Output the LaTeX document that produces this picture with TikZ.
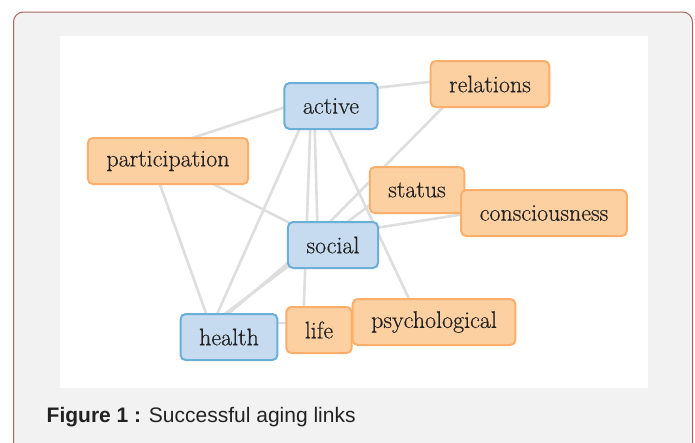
\documentclass[tikz,border=0pt]{standalone}
\usepackage{fontspec}
\usepackage{xcolor}
\usepackage{tikz}
\newfontfamily\capfont{Liberation Sans}
\newfontfamily\termfont[FakeBold=0.5]{Latin Modern Roman}
\definecolor{termblue}{HTML}{C6DBEF}
\definecolor{termbluedark}{HTML}{6BAED6}
\definecolor{termorange}{HTML}{FDD0A2}
\definecolor{termorangedark}{HTML}{FDAE6B}
\definecolor{linkgray}{HTML}{DEDEDE}
\definecolor{framebrown}{HTML}{A8685C}
\definecolor{framegray}{HTML}{F2F2F2}
\definecolor{inkdark}{HTML}{222222}
\pgfdeclarelayer{bg}
\pgfdeclarelayer{links}
\pgfsetlayers{bg,links,main}
\tikzset{
  term/.style={rounded corners=5pt, line width=2pt, minimum height=46pt,
    inner xsep=18.5pt, font=\termfont\fontsize{24}{28}\selectfont, text=inkdark},
  bluebox/.style={term, fill=termblue, draw=termbluedark},
  orangebox/.style={term, fill=termorange, draw=termorangedark},
  link/.style={draw=linkgray, line width=2.6pt}
}
\begin{document}
\begin{tikzpicture}[x=1pt, y=-1pt]
\clip (0,0) rectangle (695,442);
\useasboundingbox (0,0) rectangle (695,442);
\begin{pgfonlayer}{bg}
\fill[white] (0,0) rectangle (695,442);
\filldraw[fill=framegray, draw=framebrown, line width=1pt, rounded corners=10pt]
  (13.5,12) rectangle (692.5,470);
\fill[white] (60,36) rectangle (648,388);
\end{pgfonlayer}
% terms
\node[bluebox] (active) at (331,106) {active};
\node[orangebox] (relations) at (490,84) {relations};
\node[orangebox] (participation) at (168,161) {participation};
\node[orangebox] (status) at (417,190) {status};
\node[orangebox] (consciousness) at (544,213) {consciousness};
\node[bluebox] (social) at (333,245) {social};
\node[bluebox] (health) at (229,337) {health};
\node[orangebox] (psychological) at (434,322) {psychological};
\node[orangebox] (life) at (319,330) {life};
% links, kept under the boxes
\begin{pgfonlayer}{links}
\draw[link] ([shift={(0,-13)}]active.center) -- ([shift={(0,-9)}]relations.center);
\draw[link] ([shift={(-18,-9)}]participation.center) -- ([shift={(-21,-7)}]active.center);
\draw[link] ([shift={(-17,0)}]active.center) -- ([shift={(-15,0)}]social.center);
\draw[link] ([shift={(-20,0)}]active.center) -- ([shift={(-16,0)}]life.center);
\draw[link] ([shift={(-23,4)}]active.center) -- ([shift={(-19,-7)}]health.center);
\draw[link] ([shift={(-11,4)}]active.center) -- ([shift={(-15,-2)}]psychological.center);
\draw[link] (participation.center) -- (social.center);
\draw[link] ([shift={(-15,4)}]participation.center) -- ([shift={(-17,-7)}]health.center);
\draw[link] ([shift={(-35,11)}]relations.center) -- ([shift={(-16,-10)}]social.center);
\draw[link] ([shift={(-27,0)}]status.center) -- ([shift={(-19,-12)}]health.center);
\draw[link] ([shift={(-24,0)}]social.center) -- ([shift={(-14,-12)}]health.center);
\draw[link] ([shift={(17,-13)}]social.center) -- ([shift={(-54,-3)}]consciousness.center);
\draw[link] ([shift={(31,-14)}]health.center) -- ([shift={(-19,-7)}]life.center);
\end{pgfonlayer}
\node[anchor=base west, inner sep=0pt, text=inkdark, font=\capfont\fontsize{21}{25}\selectfont]
  (caption) at (46.5,422) {\textbf{Figure 1 :} Successful aging links};
\end{tikzpicture}
\end{document}
